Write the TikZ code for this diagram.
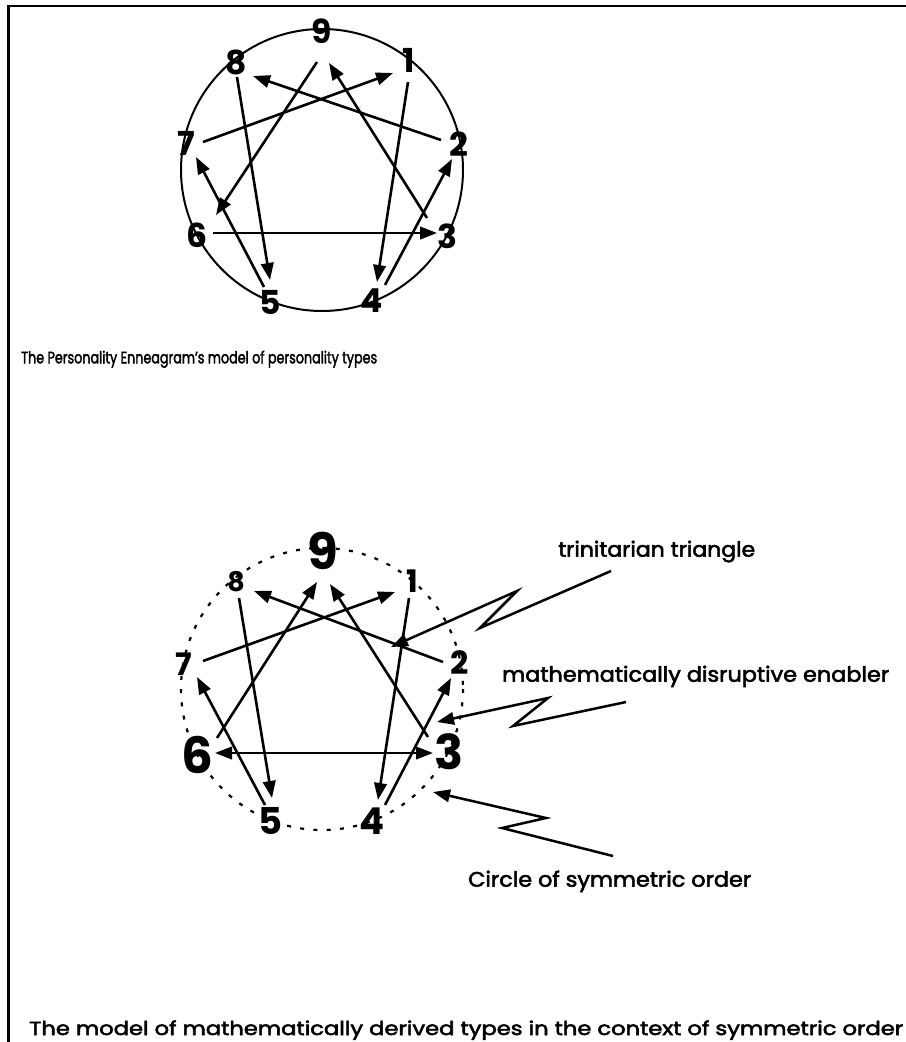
\documentclass[tikz,border=0pt]{standalone}
\usepackage{fontspec}
\setmainfont{Poppins}
\newfontfamily\txtfont{Poppins}[FakeBold=2.5]
\usetikzlibrary{arrows.meta,calc}
% stretch a line of text horizontally to a given width, keeping its height
\newsavebox\fitbox
\newcommand\fitto[2]{%
  \sbox\fitbox{#2}%
  \pgfmathsetmacro\fitx{(#1)/(\the\wd\fitbox)}%
  \scalebox{\fitx}[1]{\usebox\fitbox}}
\begin{document}
\begin{tikzpicture}[x=1bp,y=-1bp,
  num/.style={inner sep=0pt, font=\bfseries\fontsize{#1bp}{#1bp}\selectfont},
  num/.default=33,
  tip/.tip={Triangle[length=17bp,width=12.5bp]},
  arr/.style={line width=2.6bp, -tip},
  biarr/.style={line width=2.6bp, tip-tip},
  zig/.style={line width=2.5bp, -tip},
  note/.style={inner sep=0pt, font=\txtfont\fontsize{21bp}{25bp}\selectfont},
  ring/.style={line width=2bp},
  dotring/.style={line width=2.2bp, dash pattern=on 4bp off 9.3bp},
]
\useasboundingbox (0,0) rectangle (906,1042);

% frame
\draw[line width=2.4bp] (8.5,1042) -- (8.5,6) -- (906,6);

%% ---------- upper enneagram ----------
\coordinate (c1) at (322,170);
\draw[ring] (c1) circle[radius=141];

\node[num] (n9) at (322,31) {9};
\node[num] (n8) at (236,62) {8};
\node[num] (n1) at (409,60) {1};
\node[num] (n7) at (186,143) {7};
\node[num] (n2) at (459,144) {2};
\node[num] (n6) at (197,235) {6};
\node[num] (n3) at (447,236) {3};
\node[num] (n5) at (270,302) {5};
\node[num] (n4) at (372,301) {4};

\draw[arr] ($(n9)+(-5,31)$) -- ($(n6)+(19,-20)$);
\draw[arr] ($(n8)+(1,15)$) -- ($(n5)+(0,-22)$);
\draw[arr] ($(n7)+(17,-1)$) -- ($(n1)+(-16,13)$);
\draw[arr] ($(n2)+(-18,-4)$) -- ($(n8)+(17,14)$);
\draw[arr] ($(n3)+(-20,-18)$) -- ($(n9)+(7,32)$);
\draw[arr] ($(n1)+(-1,22)$) -- ($(n4)+(5,-19)$);
\draw[arr] ($(n4)+(13,-16)$) -- ($(n2)+(-7,15)$);
\draw[arr] ($(n6)+(16,-2)$) -- ($(n3)+(-10,-3)$);
\draw[arr] ($(n5)+(-6,-15)$) -- ($(n7)+(10,14)$);

\node[inner sep=0pt, anchor=base west, font=\txtfont\fontsize{16.5bp}{19bp}\selectfont] (cap1) at (21,363.3)
  {\fitto{356bp}{The Personality Enneagram’s model of personality types}};

%% ---------- lower enneagram ----------
\coordinate (c2) at (322,689);
\draw[dotring] (c2) circle[radius=141];

\node[num=50] (m9) at (323,551) {9};
\node[num=27] (m8) at (236,582) {8};
\node[num=31] (m1) at (412,581) {1};
\node[num=31] (m7) at (184,664) {7};
\node[num=32] (m2) at (460,663) {2};
\node[num=50] (m6) at (197,755) {6};
\node[num=48] (m3) at (449,752) {3};
\node[num=37] (m5) at (271,821) {5};
\node[num=37] (m4) at (372,821) {4};

\draw[arr] ($(m6)+(20,-17)$) -- ($(m9)+(-6,31)$);
\draw[arr] ($(m8)+(3,16)$) -- ($(m5)+(1,-23)$);
\draw[arr] ($(m7)+(19,-3)$) -- ($(m1)+(-17,11)$);
\draw[arr] ($(m2)+(-17,-1)$) -- ($(m8)+(18,9)$);
\draw[arr] ($(m3)+(-21,-15)$) -- ($(m9)+(7,33)$);
\draw[arr] ($(m1)+(-3,17)$) -- ($(m4)+(6,-21)$);
\draw[arr] ($(m4)+(13,-16)$) -- ($(m2)+(-9,15)$);
\draw[biarr] ($(m6)+(18,-2)$) -- ($(m3)+(-16,1)$);
\draw[arr] ($(m5)+(-6,-16)$) -- ($(m7)+(13,13)$);

% annotations
\node[note, anchor=base west] (t1) at (558,556.7) {\fitto{197bp}{trinitarian triangle}};
\node[note, anchor=base west] (t2) at (502,681.7) {\fitto{387bp}{mathematically disruptive enabler}};
\node[note, anchor=base west] (t3) at (468,886.7) {\fitto{283bp}{Circle of symmetric order}};

\coordinate (z1s) at (611,571);
\coordinate (z1t) at (391,647);
\coordinate (z2s) at (626,702);
\coordinate (z2t) at (437,722);
\coordinate (z3s) at (613,856);
\coordinate (z3t) at (433,792);

\draw[zig] (z1s) -- (480,628) -- (517,591) -- (z1t);
\draw[zig] (z2s) -- (513,726) -- (548,698) -- (z2t);
\draw[zig] (z3s) -- (502,828) -- (546,818) -- (z3t);

\node[inner sep=0pt, anchor=base west, font=\txtfont\fontsize{19bp}{22bp}\selectfont] (cap2) at (29,1035)
  {\fitto{874bp}{The model of mathematically derived types in the context of symmetric order}};
\end{tikzpicture}
\end{document}
